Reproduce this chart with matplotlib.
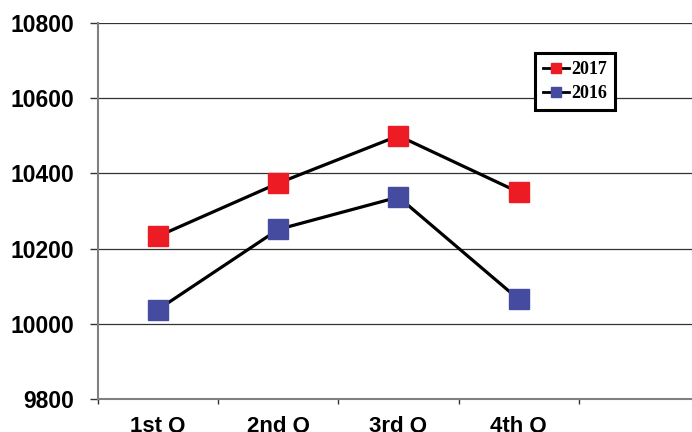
import matplotlib
matplotlib.use('Agg')
import matplotlib.pyplot as plt
from matplotlib.lines import Line2D

# data
quarters = ['1st Q', '2nd Q', '3rd Q', '4th Q', '']
y2017 = [10233, 10374, 10500, 10350]
y2016 = [10038, 10251, 10337, 10065]
red = '#ED1C24'
blue = '#454C9F'

fig = plt.figure(figsize=(6.92, 4.32), dpi=100)
ax = fig.add_axes([0.1416, 0.0764, 0.8684, 0.8704])

x = list(range(len(y2017)))
ax.plot(x, y2017, color='black', lw=2.3, marker='s', ms=14.4,
        mfc=red, mec=red, zorder=3)
ax.plot(x, y2016, color='black', lw=2.3, marker='s', ms=14.4,
        mfc=blue, mec=blue, zorder=3)

ax.set_xlim(-0.5, len(quarters) - 0.5)
ax.set_ylim(9800, 10800)
ax.set_yticks(range(9800, 10801, 200))
ax.yaxis.grid(True, color='#333333', lw=0.9)
ax.set_axisbelow(True)

# category boundaries as major ticks, labels on minor ticks
ax.set_xticks([i - 0.5 for i in range(len(quarters) + 1)])
ax.set_xticklabels([])
ax.set_xticks(range(len(quarters)), minor=True)
ax.set_xticklabels(quarters, minor=True, fontsize=16, fontweight='bold',
                   family='Liberation Sans')
ax.tick_params(axis='x', which='minor', length=0, pad=12)
ax.tick_params(axis='x', which='major', length=3.5, width=1, color='#333333',
               direction='out')
ax.tick_params(axis='y', length=6, width=1, color='#333333', direction='out',
               pad=11)
for lab in ax.get_yticklabels():
    lab.set_fontsize(16.5)
    lab.set_fontweight('bold')
    lab.set_family('Liberation Sans')

for s in ['top', 'right']:
    ax.spines[s].set_visible(False)
for s in ['left', 'bottom']:
    ax.spines[s].set_color('#808080')
    ax.spines[s].set_linewidth(1.5)

handles = [Line2D([], [], color='black', lw=2, marker='s', ms=7.5, mfc=red, mec=red),
           Line2D([], [], color='black', lw=2, marker='s', ms=7.5, mfc=blue, mec=blue)]
leg = fig.legend(handles, ['2017', '2016'], loc='upper left',
                 bbox_to_anchor=(535 / 692, 1 - 53 / 432),
                 prop={'family': 'Liberation Serif', 'weight': 'bold', 'size': 13},
                 frameon=True, fancybox=False, framealpha=1, edgecolor='black',
                 handlelength=1.45, handletextpad=0.1, borderpad=0.45,
                 labelspacing=0.4, borderaxespad=0)
leg.get_frame().set_linewidth(2.2)

fig.savefig('out.png', dpi=100)
